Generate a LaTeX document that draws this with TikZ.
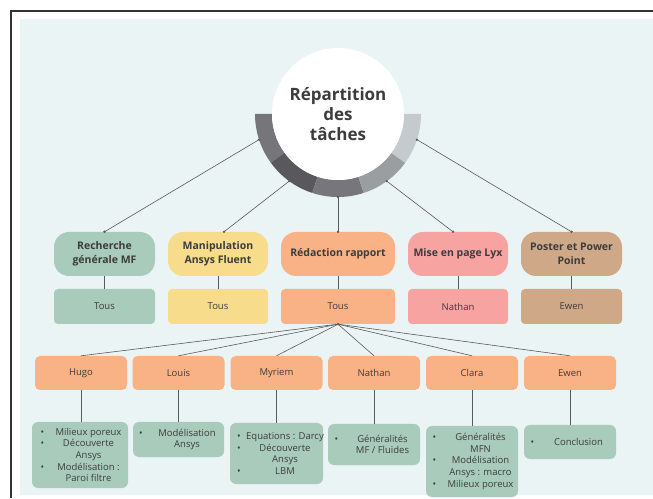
\documentclass[tikz,border=0pt]{standalone}
\usepackage{fontspec}
\setmainfont{Open Sans}
\usetikzlibrary{calc}

\definecolor{bgblue}{HTML}{EAF4F5}
\definecolor{sage}{HTML}{A8CBBB}
\definecolor{sun}{HTML}{F7DD8B}
\definecolor{peach}{HTML}{F9B286}
\definecolor{rose}{HTML}{F6A3A2}
\definecolor{tan}{HTML}{CFA887}
\definecolor{txt}{HTML}{3C3C3C}
\definecolor{wire}{HTML}{5A5A5A}
\definecolor{ringA}{HTML}{76767A}
\definecolor{ringB}{HTML}{59585D}
\definecolor{ringC}{HTML}{77777B}
\definecolor{ringD}{HTML}{9B9EA1}
\definecolor{ringE}{HTML}{C4CACD}

\tikzset{
  cat/.style={rounded corners=15pt, minimum height=44pt, align=center, inner sep=2pt,
    text=txt, font=\fontsize{10.5}{13.5}\selectfont\bfseries},
  who/.style={rounded corners=4pt, minimum height=35pt, inner sep=2pt,
    text=txt, font=\fontsize{9.5}{11.7}\selectfont},
  member/.style={fill=peach, rounded corners=5pt, minimum width=92pt, minimum height=34pt,
    text=txt, font=\fontsize{9.5}{11.7}\selectfont},
  todo/.style={fill=sage, rounded corners=6pt, align=left, inner sep=0pt,
    text=txt, font=\fontsize{9.5}{11.7}\selectfont},
  link/.style={draw=wire, line width=0.6pt},
}
\newcommand{\bl}[1]{\makebox[17pt][l]{\hspace{1pt}\textbullet}\makebox[64pt]{#1}}
\newcommand{\nb}[1]{\hspace{17pt}\makebox[64pt]{#1}}

\begin{document}
\begin{tikzpicture}[x=1pt,y=1pt]
\useasboundingbox (0,0) rectangle (653,498);

%%%%%%%%%%%%%%%%%%%%%%%%%%%%%%%%%%%%%%%%%%%%%%%%%%%%%%%%%%%%%% frame
\fill[bgblue] (20,3) rectangle (653,479);
\draw[line width=1.4pt, black!80] (11,0) -- (11,487) -- (653,487);

%%%%%%%%%%%%%%%%%%%%%%%%%%%%%%%%%%%%%%%%%%%%%%%%%%%%%%%%%%%%%% hub
\coordinate (hub) at (338,384);

\foreach \a/\c in {180/ringA,216/ringB,252/ringC,288/ringD,324/ringE}
  \fill[\c] ($(hub)+(\a:66pt)$) arc (\a:\a+36:66pt)
    -- ($(hub)+(\a+36:83pt)$) arc (\a+36:\a:83pt) -- cycle;

\node[circle, fill=white, minimum size=132pt, align=center, text=txt,
  font=\fontsize{17}{20}\selectfont\bfseries] (title) at (hub) {Répartition\\des\\tâches};

\foreach \i in {1,...,5}
  \path (hub) ++(162+36*\i:83pt) coordinate (r\i);

%%%%%%%%%%%%%%%%%%%%%%%%%%%%%%%%%%%%%%%%%%%%%%%%%%%%%%%%%%%%%% tasks
\node[cat, fill=sage, minimum width=101pt] (c1) at (104.5,244) {Recherche\\générale MF};
\node[cat, fill=sun,  minimum width=100pt] (c2) at (218,244) {Manipulation\\Ansys Fluent};
\node[cat, fill=peach,minimum width=114pt] (c3) at (338,244) {Rédaction rapport};
\node[cat, fill=rose, minimum width=100pt] (c4) at (458,244) {Mise en page Lyx};
\node[cat, fill=tan,  minimum width=101pt] (c5) at (571.5,244) {Poster et Power\\Point};

\node[who, fill=sage, minimum width=101pt] (w1) at (104.5,191.5) {Tous};
\node[who, fill=sun,  minimum width=100pt] (w2) at (218,191.5) {Tous};
\node[who, fill=peach,minimum width=114pt] (w3) at (338,191.5) {Tous};
\node[who, fill=rose, minimum width=100pt] (w4) at (458,191.5) {Nathan};
\node[who, fill=tan,  minimum width=101pt] (w5) at (571.5,191.5) {Ewen};

\coordinate (t1) at (c1.north);
\coordinate (t2) at ([xshift=6pt]c2.north);
\coordinate (t3) at (c3.north);
\coordinate (t4) at ([xshift=-5pt]c4.north);
\coordinate (t5) at (c5.north);

\foreach \i in {1,...,5}{
  \draw[link] (r\i) -- (t\i);
  \fill[wire] (r\i) circle (1.3pt) (t\i) circle (1.3pt);
  \draw[link] (c\i.south) -- (w\i.north);
}

%%%%%%%%%%%%%%%%%%%%%%%%%%%%%%%%%%%%%%%%%%%%%%%%%%%%%%%%%%%%%% members
\node[member] (hugo)   at (81,125)    {Hugo};
\node[member] (louis)  at (178.5,125) {Louis};
\node[member] (myriem) at (276.5,125) {Myriem};
\node[member] (nathan) at (374,125)   {Nathan};
\node[member] (clara)  at (472,125)   {Clara};
\node[member] (ewen)   at (570,125)   {Ewen};

\fill[wire] (w3.south) circle (1.3pt);
\foreach \m in {hugo,louis,myriem,nathan,clara,ewen}
  \draw[link] (w3.south) -- (\m.north);

%%%%%%%%%%%%%%%%%%%%%%%%%%%%%%%%%%%%%%%%%%%%%%%%%%%%%%%%%%%%%% work
\node[todo, minimum width=96pt, minimum height=66pt] (hugoT) at (80,43)
  {\bl{Milieux poreux}\\\bl{Découverte}\\\nb{Ansys}\\\bl{Modélisation :}\\\nb{Paroi filtre}};
\node[todo, minimum width=91pt, minimum height=35pt] (louisT) at (178.5,58.5)
  {\bl{Modélisation}\\\nb{Ansys}};
\node[todo, minimum width=93pt, minimum height=61pt] (myriemT) at (276.5,44.5)
  {\bl{Equations : Darcy}\\\bl{Découverte}\\\nb{Ansys}\\\bl{LBM}};
\node[todo, minimum width=92pt, minimum height=41pt] (nathanT) at (374,53.5)
  {\bl{Généralités}\\\nb{MF / Fluides}};
\node[todo, minimum width=92pt, minimum height=71pt] (claraT) at (472,36.5)
  {\bl{Généralités}\\\nb{MFN}\\\bl{Modélisation}\\\nb{Ansys : macro}\\\bl{Milieux poreux}};
\node[todo, minimum width=92pt, minimum height=34pt] (ewenT) at (570,56)
  {\bl{Conclusion}};

\foreach \m in {hugo,louis,myriem,nathan,clara,ewen}
  \draw[link] (\m.south) -- (\m.south |- \m T.north);

\end{tikzpicture}
\end{document}
